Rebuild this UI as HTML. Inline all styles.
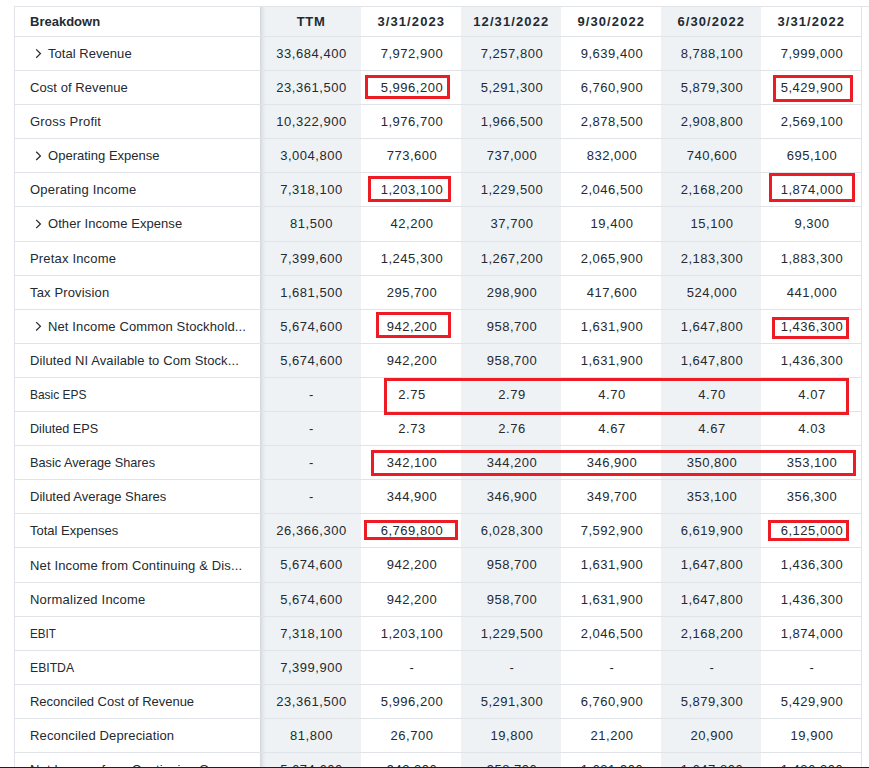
<!DOCTYPE html>
<html><head><meta charset="utf-8"><style>
html,body{margin:0;padding:0;background:#fff;}
body{width:869px;height:768px;overflow:hidden;position:relative;font-family:"Liberation Sans",sans-serif;color:#232a31;}
.a{position:absolute;}
.hl{position:absolute;height:1px;background:#e0e4e9;}
.vl{position:absolute;width:1px;background:#e0e4e9;}
.g{position:absolute;background:#eff2f5;}
.t{position:absolute;font-size:13px;white-space:nowrap;line-height:16px;}
.n{position:absolute;font-size:13px;white-space:nowrap;line-height:16px;text-align:center;letter-spacing:0.53px;padding-left:1px;}
.h{position:absolute;font-size:13px;font-weight:bold;white-space:nowrap;line-height:16px;text-align:center;}
.box{position:absolute;border:3px solid #ed1c24;box-sizing:border-box;}
</style></head><body>

<div class="g" style="left:260px;top:7px;width:101px;height:761px"></div>
<div class="g" style="left:461px;top:7px;width:100px;height:761px"></div>
<div class="g" style="left:661px;top:7px;width:100px;height:761px"></div>
<div class="a" style="left:260px;top:7px;width:1px;height:761px;background:rgb(211,216,221)"></div>
<div class="a" style="left:261px;top:7px;width:1px;height:761px;background:rgb(220,224,229)"></div>
<div class="a" style="left:262px;top:7px;width:1px;height:761px;background:rgb(226,230,234)"></div>
<div class="a" style="left:263px;top:7px;width:1px;height:761px;background:rgb(230,234,238)"></div>
<div class="a" style="left:264px;top:7px;width:1px;height:761px;background:rgb(234,238,241)"></div>
<div class="a" style="left:265px;top:7px;width:1px;height:761px;background:rgb(237,240,243)"></div>
<div class="hl" style="left:14px;top:6px;width:855px"></div>
<div class="hl" style="left:14px;top:36px;width:848px"></div>
<div class="hl" style="left:14px;top:70px;width:848px"></div>
<div class="hl" style="left:14px;top:104px;width:848px"></div>
<div class="hl" style="left:14px;top:138px;width:848px"></div>
<div class="hl" style="left:14px;top:172px;width:848px"></div>
<div class="hl" style="left:14px;top:206px;width:848px"></div>
<div class="hl" style="left:14px;top:241px;width:848px"></div>
<div class="hl" style="left:14px;top:275px;width:848px"></div>
<div class="hl" style="left:14px;top:309px;width:848px"></div>
<div class="hl" style="left:14px;top:343px;width:848px"></div>
<div class="hl" style="left:14px;top:377px;width:848px"></div>
<div class="hl" style="left:14px;top:411px;width:848px"></div>
<div class="hl" style="left:14px;top:445px;width:848px"></div>
<div class="hl" style="left:14px;top:479px;width:848px"></div>
<div class="hl" style="left:14px;top:513px;width:848px"></div>
<div class="hl" style="left:14px;top:547px;width:848px"></div>
<div class="hl" style="left:14px;top:582px;width:848px"></div>
<div class="hl" style="left:14px;top:616px;width:848px"></div>
<div class="hl" style="left:14px;top:650px;width:848px"></div>
<div class="hl" style="left:14px;top:684px;width:848px"></div>
<div class="hl" style="left:14px;top:718px;width:848px"></div>
<div class="hl" style="left:14px;top:752px;width:848px"></div>
<div class="vl" style="left:14px;top:6px;height:762px"></div>
<div class="vl" style="left:861px;top:6px;height:762px"></div>
<div class="h" style="left:30px;top:14px;text-align:left">Breakdown</div>
<div class="h" style="left:260px;top:14px;width:101px;letter-spacing:0.6px;padding-left:0.6px;">TTM</div>
<div class="h" style="left:361px;top:14px;width:100px;letter-spacing:1.1px;padding-left:0.3px;">3/31/2023</div>
<div class="h" style="left:461px;top:14px;width:100px;letter-spacing:1.1px;padding-left:0.3px;">12/31/2022</div>
<div class="h" style="left:561px;top:14px;width:100px;letter-spacing:1.1px;padding-left:0.3px;">9/30/2022</div>
<div class="h" style="left:661px;top:14px;width:100px;letter-spacing:1.1px;padding-left:0.3px;">6/30/2022</div>
<div class="h" style="left:761px;top:14px;width:100px;letter-spacing:1.1px;padding-left:0.3px;">3/31/2022</div>
<div class="t" style="left:48px;top:46px;letter-spacing:0.042px">Total Revenue</div>
<div class="n" style="left:260px;top:46px;width:101px">33,684,400</div>
<div class="n" style="left:361px;top:46px;width:100px">7,972,900</div>
<div class="n" style="left:461px;top:46px;width:100px">7,257,800</div>
<div class="n" style="left:561px;top:46px;width:100px">9,639,400</div>
<div class="n" style="left:661px;top:46px;width:100px">8,788,100</div>
<div class="n" style="left:761px;top:46px;width:100px">7,999,000</div>
<div class="t" style="left:30px;top:80px;letter-spacing:0.071px">Cost of Revenue</div>
<div class="n" style="left:260px;top:80px;width:101px">23,361,500</div>
<div class="n" style="left:361px;top:80px;width:100px">5,996,200</div>
<div class="n" style="left:461px;top:80px;width:100px">5,291,300</div>
<div class="n" style="left:561px;top:80px;width:100px">6,760,900</div>
<div class="n" style="left:661px;top:80px;width:100px">5,879,300</div>
<div class="n" style="left:761px;top:80px;width:100px">5,429,900</div>
<div class="t" style="left:30px;top:114px;letter-spacing:0.209px">Gross Profit</div>
<div class="n" style="left:260px;top:114px;width:101px">10,322,900</div>
<div class="n" style="left:361px;top:114px;width:100px">1,976,700</div>
<div class="n" style="left:461px;top:114px;width:100px">1,966,500</div>
<div class="n" style="left:561px;top:114px;width:100px">2,878,500</div>
<div class="n" style="left:661px;top:114px;width:100px">2,908,800</div>
<div class="n" style="left:761px;top:114px;width:100px">2,569,100</div>
<div class="t" style="left:48px;top:148px;letter-spacing:0.019px">Operating Expense</div>
<div class="n" style="left:260px;top:148px;width:101px">3,004,800</div>
<div class="n" style="left:361px;top:148px;width:100px">773,600</div>
<div class="n" style="left:461px;top:148px;width:100px">737,000</div>
<div class="n" style="left:561px;top:148px;width:100px">832,000</div>
<div class="n" style="left:661px;top:148px;width:100px">740,600</div>
<div class="n" style="left:761px;top:148px;width:100px">695,100</div>
<div class="t" style="left:30px;top:182px;letter-spacing:0.193px">Operating Income</div>
<div class="n" style="left:260px;top:182px;width:101px">7,318,100</div>
<div class="n" style="left:361px;top:182px;width:100px">1,203,100</div>
<div class="n" style="left:461px;top:182px;width:100px">1,229,500</div>
<div class="n" style="left:561px;top:182px;width:100px">2,046,500</div>
<div class="n" style="left:661px;top:182px;width:100px">2,168,200</div>
<div class="n" style="left:761px;top:182px;width:100px">1,874,000</div>
<div class="t" style="left:48px;top:216px;letter-spacing:0.063px">Other Income Expense</div>
<div class="n" style="left:260px;top:216px;width:101px">81,500</div>
<div class="n" style="left:361px;top:216px;width:100px">42,200</div>
<div class="n" style="left:461px;top:216px;width:100px">37,700</div>
<div class="n" style="left:561px;top:216px;width:100px">19,400</div>
<div class="n" style="left:661px;top:216px;width:100px">15,100</div>
<div class="n" style="left:761px;top:216px;width:100px">9,300</div>
<div class="t" style="left:30px;top:251px;letter-spacing:0.175px">Pretax Income</div>
<div class="n" style="left:260px;top:251px;width:101px">7,399,600</div>
<div class="n" style="left:361px;top:251px;width:100px">1,245,300</div>
<div class="n" style="left:461px;top:251px;width:100px">1,267,200</div>
<div class="n" style="left:561px;top:251px;width:100px">2,065,900</div>
<div class="n" style="left:661px;top:251px;width:100px">2,183,300</div>
<div class="n" style="left:761px;top:251px;width:100px">1,883,300</div>
<div class="t" style="left:30px;top:285px;letter-spacing:0.150px">Tax Provision</div>
<div class="n" style="left:260px;top:285px;width:101px">1,681,500</div>
<div class="n" style="left:361px;top:285px;width:100px">295,700</div>
<div class="n" style="left:461px;top:285px;width:100px">298,900</div>
<div class="n" style="left:561px;top:285px;width:100px">417,600</div>
<div class="n" style="left:661px;top:285px;width:100px">524,000</div>
<div class="n" style="left:761px;top:285px;width:100px">441,000</div>
<div class="t" style="left:48px;top:319px;letter-spacing:0.121px">Net Income Common Stockhold...</div>
<div class="n" style="left:260px;top:319px;width:101px">5,674,600</div>
<div class="n" style="left:361px;top:319px;width:100px">942,200</div>
<div class="n" style="left:461px;top:319px;width:100px">958,700</div>
<div class="n" style="left:561px;top:319px;width:100px">1,631,900</div>
<div class="n" style="left:661px;top:319px;width:100px">1,647,800</div>
<div class="n" style="left:761px;top:319px;width:100px">1,436,300</div>
<div class="t" style="left:30px;top:353px;letter-spacing:0.109px">Diluted NI Available to Com Stock...</div>
<div class="n" style="left:260px;top:353px;width:101px">5,674,600</div>
<div class="n" style="left:361px;top:353px;width:100px">942,200</div>
<div class="n" style="left:461px;top:353px;width:100px">958,700</div>
<div class="n" style="left:561px;top:353px;width:100px">1,631,900</div>
<div class="n" style="left:661px;top:353px;width:100px">1,647,800</div>
<div class="n" style="left:761px;top:353px;width:100px">1,436,300</div>
<div class="t" style="left:30px;top:387px;transform:scaleX(0.9190);transform-origin:0 0">Basic EPS</div>
<div class="n" style="left:260px;top:387px;width:101px">-</div>
<div class="n" style="left:361px;top:387px;width:100px">2.75</div>
<div class="n" style="left:461px;top:387px;width:100px">2.79</div>
<div class="n" style="left:561px;top:387px;width:100px">4.70</div>
<div class="n" style="left:661px;top:387px;width:100px">4.70</div>
<div class="n" style="left:761px;top:387px;width:100px">4.07</div>
<div class="t" style="left:30px;top:421px;transform:scaleX(0.9712);transform-origin:0 0">Diluted EPS</div>
<div class="n" style="left:260px;top:421px;width:101px">-</div>
<div class="n" style="left:361px;top:421px;width:100px">2.73</div>
<div class="n" style="left:461px;top:421px;width:100px">2.76</div>
<div class="n" style="left:561px;top:421px;width:100px">4.67</div>
<div class="n" style="left:661px;top:421px;width:100px">4.67</div>
<div class="n" style="left:761px;top:421px;width:100px">4.03</div>
<div class="t" style="left:30px;top:455px;transform:scaleX(0.9794);transform-origin:0 0">Basic Average Shares</div>
<div class="n" style="left:260px;top:455px;width:101px">-</div>
<div class="n" style="left:361px;top:455px;width:100px">342,100</div>
<div class="n" style="left:461px;top:455px;width:100px">344,200</div>
<div class="n" style="left:561px;top:455px;width:100px">346,900</div>
<div class="n" style="left:661px;top:455px;width:100px">350,800</div>
<div class="n" style="left:761px;top:455px;width:100px">353,100</div>
<div class="t" style="left:30px;top:489px;letter-spacing:-0.005px">Diluted Average Shares</div>
<div class="n" style="left:260px;top:489px;width:101px">-</div>
<div class="n" style="left:361px;top:489px;width:100px">344,900</div>
<div class="n" style="left:461px;top:489px;width:100px">346,900</div>
<div class="n" style="left:561px;top:489px;width:100px">349,700</div>
<div class="n" style="left:661px;top:489px;width:100px">353,100</div>
<div class="n" style="left:761px;top:489px;width:100px">356,300</div>
<div class="t" style="left:30px;top:523px;letter-spacing:0.008px">Total Expenses</div>
<div class="n" style="left:260px;top:523px;width:101px">26,366,300</div>
<div class="n" style="left:361px;top:523px;width:100px">6,769,800</div>
<div class="n" style="left:461px;top:523px;width:100px">6,028,300</div>
<div class="n" style="left:561px;top:523px;width:100px">7,592,900</div>
<div class="n" style="left:661px;top:523px;width:100px">6,619,900</div>
<div class="n" style="left:761px;top:523px;width:100px">6,125,000</div>
<div class="t" style="left:30px;top:558px;letter-spacing:0.138px">Net Income from Continuing &amp; Dis...</div>
<div class="n" style="left:260px;top:557px;width:101px">5,674,600</div>
<div class="n" style="left:361px;top:557px;width:100px">942,200</div>
<div class="n" style="left:461px;top:557px;width:100px">958,700</div>
<div class="n" style="left:561px;top:557px;width:100px">1,631,900</div>
<div class="n" style="left:661px;top:557px;width:100px">1,647,800</div>
<div class="n" style="left:761px;top:557px;width:100px">1,436,300</div>
<div class="t" style="left:30px;top:592px;letter-spacing:0.206px">Normalized Income</div>
<div class="n" style="left:260px;top:592px;width:101px">5,674,600</div>
<div class="n" style="left:361px;top:592px;width:100px">942,200</div>
<div class="n" style="left:461px;top:592px;width:100px">958,700</div>
<div class="n" style="left:561px;top:592px;width:100px">1,631,900</div>
<div class="n" style="left:661px;top:592px;width:100px">1,647,800</div>
<div class="n" style="left:761px;top:592px;width:100px">1,436,300</div>
<div class="t" style="left:30px;top:626px;transform:scaleX(0.8947);transform-origin:0 0">EBIT</div>
<div class="n" style="left:260px;top:626px;width:101px">7,318,100</div>
<div class="n" style="left:361px;top:626px;width:100px">1,203,100</div>
<div class="n" style="left:461px;top:626px;width:100px">1,229,500</div>
<div class="n" style="left:561px;top:626px;width:100px">2,046,500</div>
<div class="n" style="left:661px;top:626px;width:100px">2,168,200</div>
<div class="n" style="left:761px;top:626px;width:100px">1,874,000</div>
<div class="t" style="left:30px;top:660px;transform:scaleX(0.9376);transform-origin:0 0">EBITDA</div>
<div class="n" style="left:260px;top:660px;width:101px">7,399,900</div>
<div class="n" style="left:361px;top:660px;width:100px">-</div>
<div class="n" style="left:461px;top:660px;width:100px">-</div>
<div class="n" style="left:561px;top:660px;width:100px">-</div>
<div class="n" style="left:661px;top:660px;width:100px">-</div>
<div class="n" style="left:761px;top:660px;width:100px">-</div>
<div class="t" style="left:30px;top:694px;letter-spacing:-0.028px">Reconciled Cost of Revenue</div>
<div class="n" style="left:260px;top:694px;width:101px">23,361,500</div>
<div class="n" style="left:361px;top:694px;width:100px">5,996,200</div>
<div class="n" style="left:461px;top:694px;width:100px">5,291,300</div>
<div class="n" style="left:561px;top:694px;width:100px">6,760,900</div>
<div class="n" style="left:661px;top:694px;width:100px">5,879,300</div>
<div class="n" style="left:761px;top:694px;width:100px">5,429,900</div>
<div class="t" style="left:30px;top:728px;letter-spacing:0.145px">Reconciled Depreciation</div>
<div class="n" style="left:260px;top:728px;width:101px">81,800</div>
<div class="n" style="left:361px;top:728px;width:100px">26,700</div>
<div class="n" style="left:461px;top:728px;width:100px">19,800</div>
<div class="n" style="left:561px;top:728px;width:100px">21,200</div>
<div class="n" style="left:661px;top:728px;width:100px">20,900</div>
<div class="n" style="left:761px;top:728px;width:100px">19,900</div>
<div class="t" style="left:30px;top:762px;letter-spacing:0.130px">Net Income from Continuing O...</div>
<div class="n" style="left:260px;top:762px;width:101px">5,674,600</div>
<div class="n" style="left:361px;top:762px;width:100px">942,200</div>
<div class="n" style="left:461px;top:762px;width:100px">958,700</div>
<div class="n" style="left:561px;top:762px;width:100px">1,631,900</div>
<div class="n" style="left:661px;top:762px;width:100px">1,647,800</div>
<div class="n" style="left:761px;top:762px;width:100px">1,436,300</div>
<svg class="a" style="left:0;top:0" width="869" height="768"><path d="M36.2 49.40 L40.4 53.60 L36.2 57.70 M36.2 151.69 L40.4 155.88 L36.2 159.98 M36.2 219.88 L40.4 224.07 L36.2 228.17 M36.2 322.16 L40.4 326.36 L36.2 330.46" fill="none" stroke="#232a31" stroke-width="1.25"/></svg>
<div class="box" style="left:365px;top:75px;width:85px;height:24px"></div>
<div class="box" style="left:773px;top:75px;width:80px;height:27px"></div>
<div class="box" style="left:368px;top:176px;width:83px;height:26px"></div>
<div class="box" style="left:769px;top:173px;width:86px;height:29px"></div>
<div class="box" style="left:376px;top:312px;width:75px;height:26px"></div>
<div class="box" style="left:772px;top:317px;width:77px;height:22px"></div>
<div class="box" style="left:384px;top:378px;width:465px;height:37px"></div>
<div class="box" style="left:371px;top:450px;width:485px;height:26px"></div>
<div class="box" style="left:364px;top:520px;width:94px;height:20px"></div>
<div class="box" style="left:768px;top:520px;width:81px;height:21px"></div>
<div class="a" style="left:0;top:767px;width:869px;height:1px;background:#13232a"></div>
</body></html>
